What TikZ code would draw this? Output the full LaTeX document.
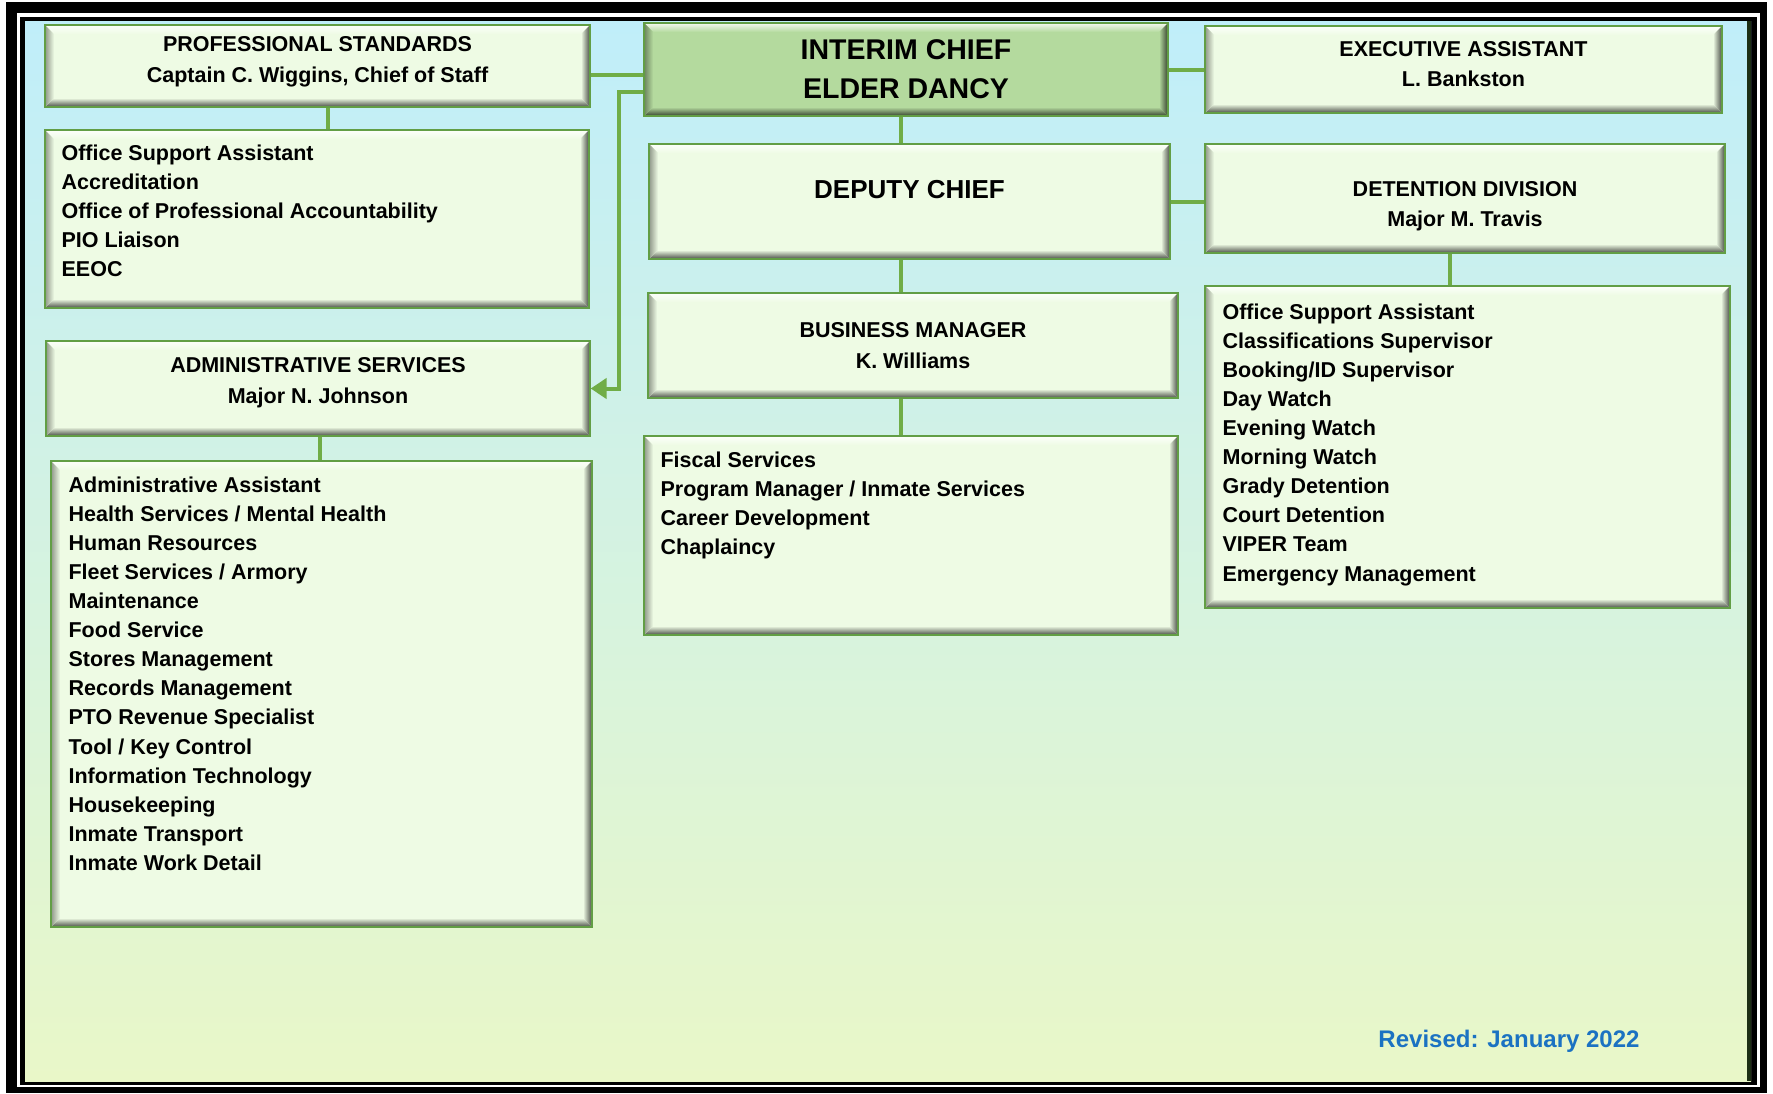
\documentclass[tikz,border=0pt]{standalone}
\usepackage{fontspec}
\setmainfont{Liberation Sans}
\usetikzlibrary{positioning,calc,arrows.meta}

\definecolor{linkgreen}{HTML}{70AD47}
\definecolor{edgegreen}{HTML}{629E45}
\definecolor{boxfill}{HTML}{EEFBE4}
\definecolor{chieffill}{HTML}{B4DA9E}
\definecolor{skyblue}{HTML}{C0EEFA}
\definecolor{paleground}{HTML}{F5FCFB}
\definecolor{limeground}{HTML}{E9F7C8}
\definecolor{revblue}{HTML}{1B72C2}

\newcommand{\headfont}{\fontsize{21.5}{30.5}\selectfont\bfseries}
\newcommand{\itemfont}{\fontsize{21.5}{29.1}\selectfont\bfseries}
\newcommand{\chieffont}{\fontsize{28.5}{39}\selectfont\bfseries}
\newcommand{\deputyfont}{\fontsize{26}{30}\selectfont\bfseries}

\tikzset{
  bevel/.style={path picture={
    \path (path picture bounding box.north west) coordinate (bnw)
          (path picture bounding box.north east) coordinate (bne)
          (path picture bounding box.south west) coordinate (bsw)
          (path picture bounding box.south east) coordinate (bse);
    \shade[top color=white!85!#1, bottom color=#1] (bnw) -- (bne) -- ([shift={(-9pt,-9pt)}]bne) -- ([shift={(9pt,-9pt)}]bnw) -- cycle;
    \shade[top color=#1, bottom color=black!70!#1] (bsw) -- (bse) -- ([shift={(-9pt,9pt)}]bse) -- ([shift={(9pt,9pt)}]bsw) -- cycle;
    \shade[left color=#1, right color=black!70!#1] (bne) -- (bse) -- ([shift={(-9pt,9pt)}]bse) -- ([shift={(-9pt,-9pt)}]bne) -- cycle;
    \shade[left color=black!40!#1, right color=#1] (bnw) -- (bsw) -- ([shift={(9pt,9pt)}]bsw) -- ([shift={(9pt,-9pt)}]bnw) -- cycle;
  }},
  orgbase/.style={draw=edgegreen, line width=1.2pt, inner sep=0pt, align=center},
  orgbox/.style={orgbase, fill=boxfill, bevel=boxfill, font=\headfont},
  chiefbox/.style={orgbase, fill=chieffill, bevel=chieffill, font=\chieffont},
  itemtext/.style={inner sep=0pt, align=left, font=\itemfont},
  link/.style={draw=linkgreen, line width=4pt},
}

\begin{document}
\begin{tikzpicture}[x=1pt,y=-1pt]
\useasboundingbox (0,0) rectangle (1773,1093);
% frame and background
\fill[black] (6,2) rectangle (1767,1093);
\fill[white] (17,13) rectangle (1760,1087);
\fill[black] (20,17) rectangle (1757,1085);
\shade[top color=skyblue, middle color=paleground, bottom color=limeground] (25,21) rectangle (1751,1081);
\fill[black!70!edgegreen] (1747,21) rectangle (1751,1081);

% left column
\node[orgbox, text depth=13pt, minimum width=545pt, minimum height=82pt] (ps) at (317.5,66) {PROFESSIONAL STANDARDS\\Captain C. Wiggins, Chief of Staff};
\node[orgbox, minimum width=544pt, minimum height=178pt] (pslist) at (317,219) {};
\node[itemtext, below right=15pt and 17pt of pslist.north west] (pslist-txt) {Office Support Assistant\\Accreditation\\Office of Professional Accountability\\PIO Liaison\\EEOC};
\node[orgbox, text depth=16pt, minimum width=544pt, minimum height=95pt] (admin) at (318,388.5) {ADMINISTRATIVE SERVICES\\Major N. Johnson};
\node[orgbox, minimum width=541pt, minimum height=466pt] (admlist) at (321.5,694) {};
\node[itemtext, below right=16pt and 18pt of admlist.north west] (admlist-txt) {Administrative Assistant\\Health Services / Mental Health\\Human Resources\\Fleet Services / Armory\\Maintenance\\Food Service\\Stores Management\\Records Management\\PTO Revenue Specialist\\Tool / Key Control\\Information Technology\\Housekeeping\\Inmate Transport\\Inmate Work Detail};

% middle column
\node[chiefbox, minimum width=524pt, minimum height=93pt] (chief) at (906,69.5) {INTERIM CHIEF\\ELDER DANCY};
\node[orgbox, font=\deputyfont, text depth=24pt, minimum width=521pt, minimum height=115pt] (deputy) at (909.5,201.5) {DEPUTY CHIEF};
\node[orgbox, minimum width=530pt, minimum height=105pt] (bm) at (913,345.5) {BUSINESS MANAGER\\K. Williams};
\node[orgbox, minimum width=534pt, minimum height=199pt] (bmlist) at (911,535.5) {};
\node[itemtext, below right=16pt and 17pt of bmlist.north west] (bmlist-txt) {Fiscal Services\\Program Manager / Inmate Services\\Career Development\\Chaplaincy};

% right column
\node[orgbox, text depth=11pt, minimum width=517pt, minimum height=87pt] (exec) at (1463.5,69.5) {EXECUTIVE ASSISTANT\\L. Bankston};
\node[orgbox, text depth=0pt, text height=56pt, minimum width=520pt, minimum height=109pt] (det) at (1465,198.5) {DETENTION DIVISION\\Major M. Travis};
\node[orgbox, minimum width=525pt, minimum height=322pt] (detlist) at (1467.5,447) {};
\node[itemtext, below right=18pt and 18pt of detlist.north west] (detlist-txt) {Office Support Assistant\\Classifications Supervisor\\Booking/ID Supervisor\\Day Watch\\Evening Watch\\Morning Watch\\Grady Detention\\Court Detention\\VIPER Team\\Emergency Management};

\node[font=\fontsize{24}{28}\selectfont\bfseries, text=revblue] (revised) at (1509,1041) {Revised: January 2022};

% connectors
\coordinate (psdrop) at (328,0);
\coordinate (admdrop) at (320,0);
\coordinate (spine) at (901,0);
\coordinate (detdrop) at (1450,0);
\coordinate (psjoin) at (0,75);
\coordinate (admjoin) at (0,92);
\draw[link] (ps.south -| psdrop) -- (pslist.north -| psdrop);
\draw[link] (admin.south -| admdrop) -- (admlist.north -| admdrop);
\draw[link] (ps.east |- psjoin) -- (chief.west |- psjoin);
\draw[link, -{Triangle[length=16pt,width=20pt]}] (chief.west |- admjoin) -| ([xshift=28pt]admin.east) -- (admin.east);
\draw[link] (chief.east) -- (exec.west);
\draw[link] (chief.south -| spine) -- (deputy.north -| spine);
\draw[link] (deputy.east) -- (deputy.east -| det.west);
\draw[link] (deputy.south -| spine) -- (bm.north -| spine);
\draw[link] (bm.south -| spine) -- (bmlist.north -| spine);
\draw[link] (det.south -| detdrop) -- (detlist.north -| detdrop);
\end{tikzpicture}
\end{document}
